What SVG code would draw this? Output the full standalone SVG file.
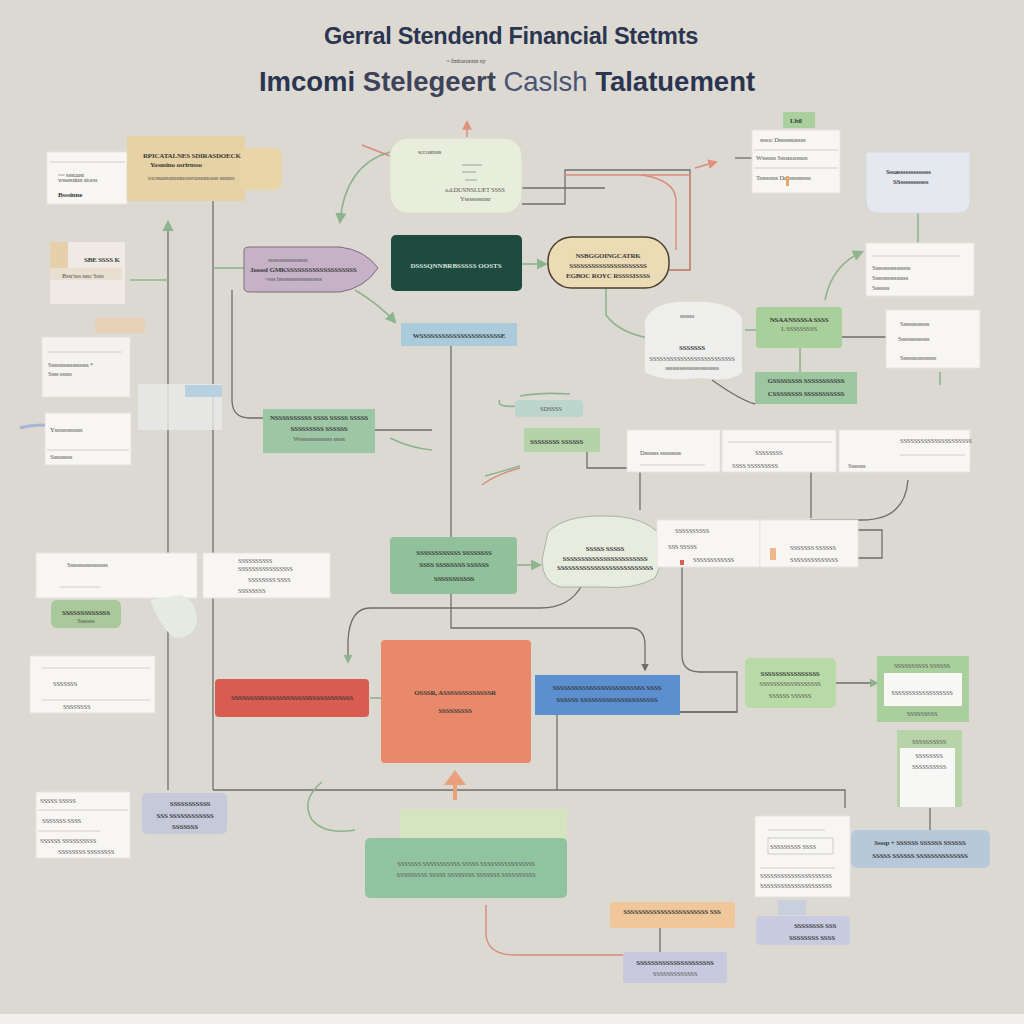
<svg xmlns="http://www.w3.org/2000/svg" width="1024" height="1024" viewBox="0 0 1024 1024">
<defs>
<style>
.t1{font-family:"Liberation Sans",Arial,sans-serif;font-weight:bold;fill:#2b3550}
.s{font-family:"Liberation Serif","DejaVu Serif",serif;font-weight:bold;font-size:7px;fill:#3a3a3a;letter-spacing:-0.2px}
.sl{font-family:"Liberation Serif","DejaVu Serif",serif;font-size:6.5px;fill:#555;letter-spacing:-0.2px}
.w{font-family:"Liberation Serif","DejaVu Serif",serif;font-weight:bold;font-size:7px;fill:#d8e6df}
.card{fill:#f7f6f3;stroke:#e6e4e0;stroke-width:1}
.rule{stroke:#c9c7c3;stroke-width:0.8}
.ln{fill:none;stroke:#6e6e68;stroke-width:1.3}
.gl{fill:none;stroke:#8db48f;stroke-width:1.6}
.rl{fill:none;stroke:#d98a78;stroke-width:1.4}
</style>
<marker id="ag" viewBox="0 0 10 10" refX="8" refY="5" markerWidth="7" markerHeight="7" orient="auto-start-reverse"><path d="M0,0 L10,5 L0,10 z" fill="#8db48f"/></marker>
<marker id="ar" viewBox="0 0 10 10" refX="8" refY="5" markerWidth="7" markerHeight="7" orient="auto-start-reverse"><path d="M0,0 L10,5 L0,10 z" fill="#e0907c"/></marker>
<marker id="ak" viewBox="0 0 10 10" refX="8" refY="5" markerWidth="6" markerHeight="6" orient="auto-start-reverse"><path d="M0,0 L10,5 L0,10 z" fill="#6e6e68"/></marker>
</defs>
<rect width="1024" height="1024" fill="#dcd9d3"/>
<rect x="0" y="1014" width="1024" height="10" fill="#f1f0ed"/>

<g id="title">
<text class="t1" x="511" y="44" font-size="23.5" text-anchor="middle" letter-spacing="-0.3">Gerral Stendend Financial Stetmts</text>
<text class="sl" x="466" y="63" text-anchor="middle" font-size="5">~ fmharuntm ny</text>
<text class="t1" x="507" y="91" font-size="27.5" text-anchor="middle">Imcomi <tspan fill="#3d4358">Stelegeert</tspan> <tspan fill="#4b5472" font-weight="normal">Caslsh</tspan> Talatuement</text>
</g>

<g id="connectors">
<path class="ln" d="M168,222 V790"/>
<path class="gl" d="M168,232 V222" marker-end="url(#ag)"/>
<path class="ln" d="M213,200 V790"/>
<path class="ln" d="M213,790 H845 V808"/>
<path class="gl" d="M213,268 H244"/>
<path class="gl" d="M130,280 H168"/>
<path class="ln" d="M232,290 V400 Q232,418 250,418 H263"/>
<path class="ln" d="M375,430 H432"/>
<path class="gl" d="M390,438 Q410,448 432,450"/>
<path class="ln" d="M451,346 V537"/>
<path class="ln" d="M451,594 V628 H630 Q645,628 645,645 V670" marker-end="url(#ak)"/>
<path class="gl" d="M522,264 H546" marker-end="url(#ag)"/>
<path class="gl" d="M355,290 Q380,305 395,322" marker-end="url(#ag)"/>
<path class="gl" d="M390,152 Q345,165 340,222" marker-end="url(#ag)"/>
<path class="rl" d="M395,158 L362,145"/>
<path class="rl" d="M467,137 V122" marker-end="url(#ar)"/>
<path class="ln" d="M522,188 H605"/>
<path class="ln" d="M522,204 H565 V170 H690 V270 H669"/>
<path class="rl" d="M565,175 H690 V270 H669"/>
<path class="rl" d="M695,168 L716,162" marker-end="url(#ar)"/>
<path class="rl" d="M642,175 Q675,180 676,200 V250"/>
<path class="ln" d="M752,158 H735"/>
<path class="gl" d="M606,288 V315 Q620,335 660,340"/>
<path class="gl" d="M745,330 H756"/>
<path class="gl" d="M800,348 V372"/>
<path class="ln" d="M842,337 H886"/>
<path class="gl" d="M825,300 Q832,265 862,252" marker-end="url(#ag)"/>
<path class="gl" d="M918,213 V243"/>
<path class="gl" d="M940,372 V385"/>
<path class="ln" d="M712,380 Q740,400 755,404"/>
<path class="gl" d="M583,406 H520 Q495,408 500,400" />
<path class="gl" d="M520,396 Q540,392 570,394"/>
<path class="ln" d="M587,452 V468 H640"/>
<path class="rl" d="M520,468 Q495,475 482,485"/>
<path class="gl" d="M520,466 Q500,472 485,476"/>
<path class="ln" d="M640,472 V510"/>
<path class="ln" d="M811,472 V518"/>
<path class="ln" d="M908,480 Q905,520 862,520 H810"/>
<path class="ln" d="M858,530 H882 V558 H858"/>
<path class="gl" d="M517,565 H540" marker-end="url(#ag)"/>
<path class="ln" d="M582,585 Q570,608 540,608 H370 Q350,608 348,640 V662" marker-end="url(#ag)"/>
<path class="ln" d="M682,560 V655 Q682,672 700,672 H737 V712 H680"/>
<path class="ln" d="M680,712 H737"/>
<path class="ln" d="M557,715 V790"/>
<path class="ln" d="M836,683 H877" marker-end="url(#ag)"/>
<path class="gl" d="M370,698 H381"/>
<path d="M455,800 V782" stroke="#eaa07c" stroke-width="4" fill="none"/>
<path d="M444,785 L455,770 L466,785 z" fill="#eaa07c"/>
<path class="gl" d="M322,782 Q300,800 312,820 Q325,835 355,830" stroke-width="3" stroke="#a9c8ac"/>
<path class="rl" d="M486,905 V935 Q488,955 515,955 H623"/>
<path class="ln" d="M660,928 V952"/>
<path class="ln" d="M930,808 V830"/>
</g>

<g id="n-a"><rect class="card" x="47" y="152" width="80" height="52"/><line class="rule" x1="50" y1="162" x2="125" y2="162"/><text class="sl" x="58" y="177">~~ ssstaast</text><text class="sl" x="58" y="182">wssessinn siorss</text><text class="s" x="58" y="197">Bsssinne</text></g>
<g id="n-b"><rect x="127" y="136" width="118" height="65" fill="#e6d2a4"/><rect x="240" y="148" width="42" height="42" rx="8" fill="#e9d5a8"/><text class="s" x="143" y="158">RPICATALNES SDIRASDOECK</text><text class="s" x="150" y="167">Yosusino osrirnsso</text><text class="sl" x="148" y="180">rocssuessxsssnossvussanosss ssnsss</text></g>
<g id="n-c"><rect x="390" y="138" width="132" height="75" rx="18" fill="#e9eedc" stroke="#d7dcc8"/><text class="sl" x="418" y="154">sccosnsss</text><path d="M462,165 h20 M462,172 h14 M465,180 h12" stroke="#888" stroke-width="0.8"/><text class="sl" x="445" y="192">a.d.DUSNSLUET SSSS</text><text class="sl" x="460" y="201">Yssssssssnsr</text></g>
<g id="n-d"><rect x="783" y="112" width="32" height="16" fill="#a9cf9c"/><text class="s" x="790" y="123">Lbil</text><rect class="card" x="752" y="130" width="88" height="63"/><line class="rule" x1="754" y1="150" x2="838" y2="150"/><line class="rule" x1="754" y1="168" x2="838" y2="168"/><text class="sl" x="760" y="142">sssoc  Dsssssnassss</text><text class="sl" x="756" y="160">Wssssss  Ssssnossssrs</text><text class="sl" x="756" y="180">Tssssssss  Dasssssnssss</text><rect x="786" y="176" width="3" height="10" fill="#e3a86b"/></g>
<g id="n-e"><path d="M866,152 H970 V200 Q970,213 958,213 H878 Q866,213 866,200 z" fill="#e5e8ee" stroke="#d5d8de"/><text class="s" x="886" y="174">Sssasssssssssssss</text><text class="s" x="893" y="184">SSsssssssssss</text></g>
<g id="n-f"><path d="M244,250 Q244,247 250,247 H340 Q365,250 378,268 Q365,288 340,292 H250 Q244,292 244,288 z" fill="#c6b2c7" stroke="#7e6a7c"/><text class="sl" x="268" y="262">sssssssssssssssss</text><text class="s" x="250" y="272">Jooosf GMKSSSSSSSSSSSSSSSSSSS</text><text class="sl" x="265" y="281">~sss bssssssssssssssssss</text></g>
<g id="n-g"><rect x="391" y="235" width="131" height="56" rx="5" fill="#1f4a40"/><text class="w" x="456" y="268" text-anchor="middle">DSSSQNNBRBSSSSS OOSTS</text></g>
<g id="n-h"><rect x="548" y="237" width="121" height="51" rx="24" fill="#ecdcb6" stroke="#4a3f30" stroke-width="1.5"/><text class="s" x="608" y="258" text-anchor="middle">NSBGGOINGCATRK</text><text class="s" x="608" y="268" text-anchor="middle" font-size="6">SSSSSSSSSSSSSSSSSSSSS</text><text class="s" x="608" y="278" text-anchor="middle" font-size="6">EGBOC ROYC RSSSSISSSS</text></g>
<g id="n-i"><rect x="401" y="323" width="116" height="23" fill="#a9cbdc"/><text class="s" x="459" y="338" text-anchor="middle">WSSSSSSSSSSSSSSSSSSSSSSE</text></g>
<g id="n-j"><rect x="50" y="242" width="75" height="62" fill="#efebe4"/><rect x="50" y="242" width="18" height="30" fill="#e6cfab"/><rect x="50" y="268" width="72" height="12" fill="#e8dfd0"/><text class="s" x="84" y="262">SBE SSSS K</text><text class="sl" x="62" y="278">Bssr'sss sssc Ssss</text></g>
<g id="n-k"><rect x="95" y="318" width="50" height="15" rx="3" fill="#e7cfae" opacity="0.8"/></g>
<g id="n-l"><rect class="card" x="42" y="337" width="88" height="60" opacity="0.9"/><line class="rule" x1="47" y1="352" x2="122" y2="352"/><text class="sl" x="48" y="367">Sssssssssssssssss *</text><text class="sl" x="48" y="376">Ssss sssss</text></g>
<g id="n-m"><rect class="card" x="45" y="413" width="86" height="52"/><line class="rule" x1="47" y1="450" x2="129" y2="450"/><text class="sl" x="50" y="432">Yssssssssssss</text><text class="sl" x="50" y="459">Sssssssss</text><path d="M20,428 Q30,425 45,425" stroke="#a8b6d6" stroke-width="3" fill="none"/></g>
<g id="n-n"><rect x="138" y="384" width="84" height="46" fill="#e8e8ea" opacity="0.8"/><rect x="185" y="385" width="37" height="12" fill="#b9d0e0"/></g>
<g id="n-o"><rect x="263" y="409" width="112" height="44" fill="#9cc6a4"/><text class="s" x="319" y="420" text-anchor="middle">NSSSSSSSSSS SSSS SSSSS SSSSS</text><text class="s" x="319" y="431" text-anchor="middle">SSSSSSSSS SSSSSS</text><text class="sl" x="319" y="441" text-anchor="middle">Wssssssssssssss sssss</text></g>
<g id="n-p"><path d="M645,320 Q655,300 690,302 Q730,300 742,318 V372 Q735,382 700,378 Q660,382 645,372 z" fill="#eeeeec"/><text class="sl" x="680" y="318">ssssss</text><text class="s" x="692" y="350" text-anchor="middle">SSSSSSS</text><text class="sl" x="692" y="361" text-anchor="middle">SSSSSSSSSSSSSSSSSSSSSSSSS</text><text class="sl" x="692" y="370" text-anchor="middle">sssssssssssssssssssssss</text></g>
<g id="n-q"><rect x="756" y="307" width="86" height="41" rx="3" fill="#a9cf9b"/><text class="s" x="799" y="322" text-anchor="middle">NSAANSSSSA SSSS</text><text class="sl" x="799" y="331" text-anchor="middle">L  SSSSSSSSS</text></g>
<g id="n-r"><rect class="card" x="866" y="243" width="108" height="53"/><line class="rule" x1="872" y1="256" x2="960" y2="256"/><text class="sl" x="872" y="270">Ssssssssssssssss</text><text class="sl" x="872" y="280">Sssssssssssssss</text><text class="sl" x="872" y="290">Sssssss</text></g>
<g id="n-s"><rect class="card" x="886" y="310" width="94" height="58"/><text class="sl" x="900" y="326">Ssssssssssss</text><text class="sl" x="898" y="341">Sssssssssssss</text><text class="sl" x="900" y="360">Sssssssssssssss</text></g>
<g id="n-t"><rect x="755" y="372" width="102" height="32" fill="#9cc6a0"/><text class="s" x="806" y="383" text-anchor="middle">GSSSSSSSS SSSSSSSSSSS</text><text class="s" x="806" y="396" text-anchor="middle">CSSSSSSSS SSSSSSSSSSS</text></g>
<g id="n-u"><rect x="515" y="400" width="68" height="17" rx="4" fill="#bcd6cd"/><text class="sl" x="540" y="411">SDSSSS</text><rect x="524" y="428" width="76" height="24" fill="#b5d3a9"/><text class="s" x="530" y="444">SSSSSSSS SSSSSS</text></g>
<g id="n-v"><rect class="card" x="627" y="430" width="93" height="42"/><text class="sl" x="640" y="455">Dssssss sssssssss</text><line class="rule" x1="640" y1="465" x2="705" y2="465"/><rect class="card" x="722" y="430" width="114" height="42"/><line class="rule" x1="728" y1="442" x2="832" y2="442"/><text class="sl" x="755" y="455">SSSSSSSS</text><text class="sl" x="732" y="468">SSSS  SSSSSSSSS</text><rect class="card" x="839" y="430" width="131" height="42"/><text class="sl" x="900" y="443">SSSSSSSSSSSSSSSSSSSSS</text><text class="sl" x="848" y="468">Sssssss</text><line class="rule" x1="900" y1="455" x2="965" y2="455"/></g>
<g id="n-w"><rect x="390" y="537" width="127" height="57" rx="4" fill="#90c19b"/><text class="s" x="454" y="555" text-anchor="middle">SSSSSSSSSSSS SSSSSSSS</text><text class="s" x="454" y="567" text-anchor="middle">SSSS SSSSSSSS SSSSSS</text><text class="s" x="454" y="581" text-anchor="middle">SSSSSSSSSSS</text></g>
<g id="n-x"><path d="M548,532 Q565,515 605,516 Q645,516 660,535 Q665,560 655,578 Q635,590 600,587 H560 Q542,582 542,560 z" fill="#e8ecdf" stroke="#a7b4a1"/><text class="s" x="605" y="551" text-anchor="middle">SSSSS SSSSS</text><text class="s" x="605" y="561" text-anchor="middle" font-size="6">SSSSSSSSSSSSSSSSSSSSSSS</text><text class="s" x="605" y="570" text-anchor="middle" font-size="6">SSSSSSSSSSSSSSSSSSSSSSSSSS</text></g>
<g id="n-y"><rect class="card" x="657" y="520" width="103" height="47"/><text class="sl" x="675" y="533">SSSSSSSSSS</text><text class="sl" x="668" y="549">SSS  SSSSS</text><text class="sl" x="693" y="562">SSSSSSSSSSSS</text><rect x="680" y="560" width="4" height="5" fill="#d9614b"/><rect class="card" x="760" y="520" width="98" height="47"/><text class="sl" x="790" y="550">SSSSSSS SSSSSS</text><text class="sl" x="790" y="562">SSSSSSSSSSSSSS</text><rect x="770" y="548" width="6" height="12" fill="#f0b78c"/></g>
<g id="n-z"><rect class="card" x="36" y="553" width="161" height="45"/><text class="sl" x="67" y="567">Sssssssssssssssss</text><line class="rule" x1="60" y1="587" x2="100" y2="587"/><rect class="card" x="203" y="553" width="127" height="45"/><text class="sl" x="238" y="563">SSSSSSSSSS</text><text class="sl" x="238" y="571">SSSSSSSSSSSSSSSS</text><text class="sl" x="248" y="582">SSSSSSSS SSSS</text><text class="sl" x="238" y="593">SSSSSSSS</text></g>
<g id="n-aa"><rect x="51" y="600" width="70" height="28" rx="6" fill="#a9c99a"/><text class="s" x="86" y="615" text-anchor="middle">SSSSSSSSSSSSS</text><text class="sl" x="86" y="623" text-anchor="middle">Sssssss</text></g>
<g id="n-ab"><path d="M150,600 L180,595 Q196,600 197,620 Q195,638 175,638 Q162,630 150,600 z" fill="#e5ebe0"/></g>
<g id="n-ac"><rect class="card" x="30" y="656" width="125" height="57"/><line class="rule" x1="42" y1="668" x2="150" y2="668"/><line class="rule" x1="42" y1="700" x2="150" y2="700"/><text class="sl" x="53" y="686">SSSSSSS</text><text class="sl" x="63" y="709">SSSSSSSS</text></g>
<g id="n-ad"><rect x="215" y="679" width="154" height="38" rx="4" fill="#d95c50"/><text class="s" x="292" y="700" text-anchor="middle" fill="#5a2521">SSSSSSSSSSSSSSSSSSSSSSSSSSSSSSSSS</text></g>
<g id="n-ae"><rect x="381" y="640" width="150" height="123" rx="4" fill="#e8896a"/><text class="s" x="455" y="695" text-anchor="middle" fill="#4e2a1f">OSSSR, ASSSSSSSSSSSSSR</text><text class="s" x="455" y="713" text-anchor="middle" fill="#4e2a1f">SSSSSSSSS</text></g>
<g id="n-af"><rect x="535" y="675" width="145" height="40" fill="#5b8fd0"/><text class="s" x="607" y="690" text-anchor="middle" fill="#1e2e48">SSSSSSSSSSSSSSSSSSSSSSSSS SSSS</text><text class="s" x="607" y="702" text-anchor="middle" fill="#1e2e48">SSSSSS SSSSSSSSSSSSSSSSSSSSS</text></g>
<g id="n-ag"><rect x="745" y="658" width="91" height="50" rx="5" fill="#b7daa6"/><text class="s" x="790" y="676" text-anchor="middle">SSSSSSSSSSSSSSSS</text><text class="sl" x="790" y="686" text-anchor="middle">SSSSSSSSSSSSSSSSSS</text><text class="sl" x="790" y="698" text-anchor="middle">SSSSSS SSSSSS</text></g>
<g id="n-ah"><rect x="877" y="656" width="92" height="66" fill="#a9cf9c"/><rect x="884" y="673" width="78" height="33" fill="#f7f7f5"/><text class="sl" x="922" y="668" text-anchor="middle">SSSSSSSSSS SSSSSS</text><text class="sl" x="922" y="695" text-anchor="middle">SSSSSSSSSSSSSSSSSS</text><text class="sl" x="922" y="716" text-anchor="middle">SSSSSSSSS</text></g>
<g id="n-ai"><rect x="897" y="730" width="65" height="77" fill="#b7d4a9"/><rect x="900" y="748" width="55" height="59" fill="#f7f7f5"/><text class="sl" x="929" y="744" text-anchor="middle">SSSSSSSSSS</text><text class="sl" x="929" y="758" text-anchor="middle">SSSSSSSS</text><text class="sl" x="929" y="769" text-anchor="middle">SSSSSSSSSS</text></g>
<g id="n-aj"><rect class="card" x="36" y="792" width="94" height="66"/><line class="rule" x1="38" y1="810" x2="128" y2="810"/><line class="rule" x1="38" y1="831" x2="100" y2="831"/><text class="sl" x="40" y="803">SSSSS  SSSSS</text><text class="sl" x="42" y="823">SSSSSSS SSSS</text><text class="sl" x="40" y="843">SSSSSS SSSSSSSSSS</text><text class="sl" x="58" y="854">SSSSSSSS SSSSSSSS</text></g>
<g id="n-ak"><rect x="142" y="793" width="85" height="41" rx="5" fill="#c6c9da"/><text class="s" x="190" y="806" text-anchor="middle">SSSSSSSSSSS</text><text class="s" x="185" y="818" text-anchor="middle">SSS SSSSSSSSSSSS</text><text class="s" x="185" y="829" text-anchor="middle">SSSSSSS</text></g>
<g id="n-al"><rect x="400" y="809" width="167" height="30" fill="#d4e5bf"/><rect x="365" y="838" width="202" height="60" rx="5" fill="#92c3a0"/><text class="sl" x="466" y="866" text-anchor="middle" fill="#2f3d34">SSSSSSS SSSSSSSSSSS SSSSS SSSSSSSSSSSSSSSS</text><text class="sl" x="466" y="877" text-anchor="middle" fill="#2f3d34">SSSSSSSSS SSSSS SSSSSSSS SSSSSSS SSSSSSSSSS</text></g>
<g id="n-am"><rect class="card" x="755" y="816" width="95" height="81"/><line class="rule" x1="768" y1="830" x2="825" y2="830"/><rect x="768" y="838" width="65" height="16" fill="none" stroke="#ccc"/><text class="sl" x="770" y="849">SSSSSSSSS SSSS</text><line class="rule" x1="760" y1="868" x2="835" y2="868"/><text class="sl" x="760" y="878">SSSSSSSSSSSSSSSSSSSSS</text><text class="sl" x="760" y="888">SSSSSSSSSSSSSSSSSSSSS</text></g>
<g id="n-an"><rect x="851" y="830" width="139" height="38" rx="6" fill="#b7c8d8"/><text class="s" x="920" y="845" text-anchor="middle">Ssssp + SSSSSS SSSSSS SSSSSS</text><text class="s" x="920" y="858" text-anchor="middle">SSSSS SSSSSS SSSSSSSSSSSSSS</text></g>
<g id="n-ao"><rect x="610" y="902" width="125" height="26" rx="3" fill="#f0c79b"/><text class="s" x="672" y="914" text-anchor="middle">SSSSSSSSSSSSSSSSSSSSSSS SSS</text></g>
<g id="n-ap"><rect x="778" y="900" width="28" height="15" fill="#c7d0dc"/><rect x="756" y="916" width="94" height="29" rx="4" fill="#c9cbe0"/><text class="s" x="815" y="928" text-anchor="middle">SSSSSSSS  SSS</text><text class="s" x="812" y="940" text-anchor="middle">SSSSSSSS SSSS</text></g>
<g id="n-aq"><rect x="623" y="952" width="104" height="31" rx="3" fill="#c8c8de"/><text class="s" x="675" y="965" text-anchor="middle">SSSSSSSSSSSSSSSSSSSSS</text><text class="sl" x="675" y="976" text-anchor="middle">SSSSSSSSSSSSS</text></g>
</svg>
